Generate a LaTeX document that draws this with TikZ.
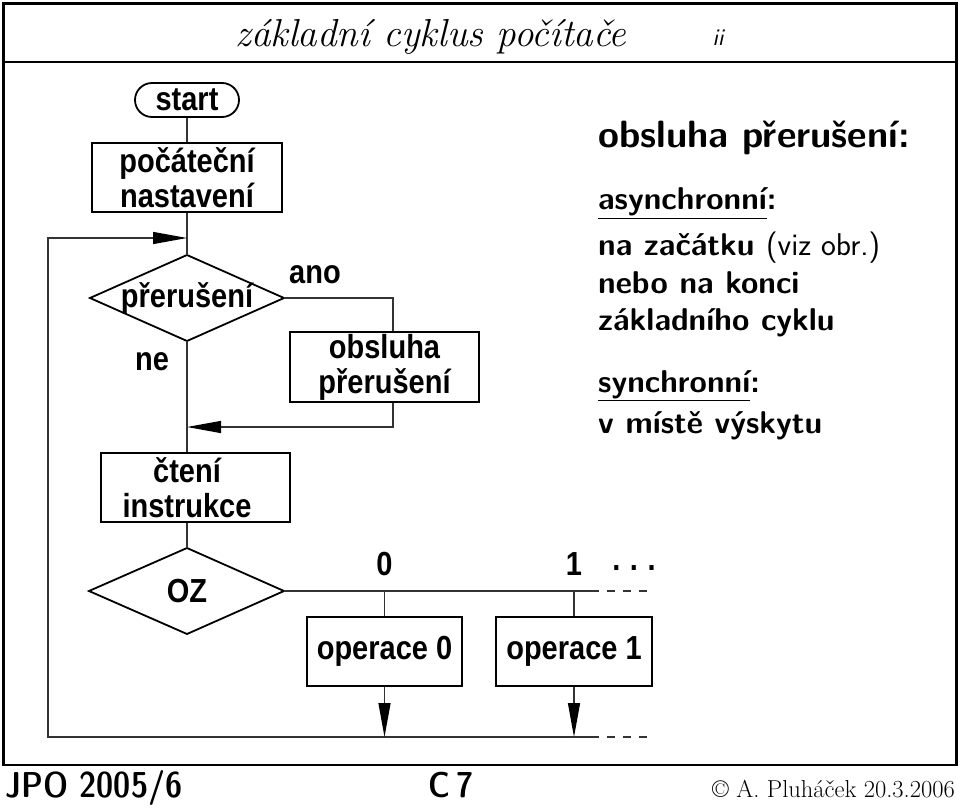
\documentclass[tikz,border=0pt]{standalone}
\usepackage{fontspec}
\usepackage{graphicx}
\usetikzlibrary{arrows.meta}
\newfontfamily\flowfont{Liberation Sans}
\newcommand\st[1]{\scalebox{1}[1.15]{#1}}
\begin{document}
\begin{tikzpicture}[x=1pt,y=-1pt,
  flow/.style={font=\flowfont\bfseries\fontsize{29}{35}\selectfont, inner sep=0pt, align=center},
  box/.style={flow, draw, line width=1.8pt},
  dia/.style={draw, line width=1.8pt, line join=miter},
  conn/.style={line width=1.3pt, draw=black!80},
  tipped/.style={conn, -{Triangle[length=34pt,width=12pt,color=black]}},
  dashconn/.style={conn, dash pattern=on 8pt off 8pt, dash phase=8pt},
  rt/.style={anchor=base west, inner sep=0pt, font=\sffamily\bfseries\fontsize{31.5}{36}\selectfont},
]
\useasboundingbox (0,0) rectangle (960,810);
\fill[white] (0,0) rectangle (960,810);

% frame
\draw[line width=2.6pt] (3.5,3.5) rectangle (956.5,765);
\draw[line width=1.4pt] (3.5,62) -- (956.5,62);

% title and footer
\node[anchor=base, inner sep=0pt, font=\itshape\fontsize{39}{42}\selectfont] (title) at (431,47) {základní cyklus počítače};
\node[anchor=base, inner sep=0pt, font=\sffamily\itshape\fontsize{24}{28}\selectfont] (pg) at (718,46) {ii};
\node[anchor=base west, inner sep=0pt, font=\fontseries{sbc}\sffamily\fontsize{36}{40}\selectfont] (jpo) at (5,797) {JPO 2005/6};
\node[anchor=base west, inner sep=0pt, font=\fontseries{sbc}\sffamily\fontsize{36}{40}\selectfont] (c7) at (428,797) {C\,7};
\node[anchor=base east, inner sep=0pt, font=\fontsize{24.5}{28}\selectfont] (copy) at (955,797) {\textcopyright\ A. Pluháček 20.3.2006};

% flowchart nodes
\node[box, rounded corners=17pt, minimum width=104pt, minimum height=34pt] (start) at (187,100) {\st{start}};
\node[box, minimum width=190pt, minimum height=69pt] (init) at (187,177.5) {\st{počáteční}\\\st{nastavení}};

\coordinate (d1t) at (187,255);
\coordinate (d1r) at (284,298);
\coordinate (d1b) at (187,341);
\coordinate (d1l) at (90,298);
\draw[dia] (d1t) -- (d1r) -- (d1b) -- (d1l) -- cycle;
\node[flow, anchor=base] (d1) at (187,307) {\st{přerušení}};
\node[flow, anchor=base] (ano) at (315,283) {\st{ano}};
\node[flow, anchor=base] (ne) at (152,370) {\st{ne}};

\node[box, minimum width=189pt, minimum height=70pt] (obs) at (384.5,367) {\st{obsluha}\\\st{přerušení}};
\node[box, minimum width=189pt, minimum height=69pt] (read) at (195.5,487.5) {\st{čtení}\hspace*{17pt}\\\st{instrukce}\hspace*{17pt}};

\coordinate (d2t) at (187,548);
\coordinate (d2r) at (284,591);
\coordinate (d2b) at (187,634);
\coordinate (d2l) at (89,591);
\draw[dia] (d2t) -- (d2r) -- (d2b) -- (d2l) -- cycle;
\node[flow, anchor=base] (oz) at (187,602) {\st{OZ}};

\node[box, minimum width=155pt, minimum height=69pt] (op0) at (384.5,651.5) {\st{operace 0}};
\node[box, minimum width=156pt, minimum height=69pt] (op1) at (574,651.5) {\st{operace 1}};
\node[flow, anchor=base] (l0) at (384.5,575) {\st{0}};
\node[flow, anchor=base] (l1) at (574,575) {\st{1}};
\node[flow, anchor=base] (dots) at (634,570) {\st{.\,\,.\,\,.}};

% connector coordinates
\coordinate (j1) at (187,238);
\coordinate (lt) at (48,238);
\coordinate (lb) at (48,737);
\coordinate (a1) at (393,298);
\coordinate (a2) at (393,427);
\coordinate (j2) at (187,427);
\coordinate (h1) at (599,591);
\coordinate (h2) at (652,591);
\coordinate (b1) at (599,737);
\coordinate (b2) at (652,737);

% connectors
\draw[conn] (start) -- (init);
\draw[conn] (init) -- (d1t);
\draw[tipped] (b1) -- (lb) -- (lt) -- (j1);
\draw[conn] (d1r) -- (a1) -- (a1 |- obs.north);
\draw[tipped] (a1 |- obs.south) -- (a2) -- (j2);
\draw[conn] (d1b) -- (read.north -| d1b);
\draw[conn] (read.south -| d1b) -- (d2t);
\draw[conn] (d2r) -- (h1);
\draw[dashconn] (h1) -- (h2);
\draw[dashconn] (b1) -- (b2);
\draw[conn] (op0.north |- d2r) -- (op0.north);
\draw[conn] (op1.north |- d2r) -- (op1.north);
\draw[tipped] (op0.south) -- (op0.south |- lb);
\draw[tipped] (op1.south) -- (op1.south |- lb);

% right-hand text
\node[rt, font=\sffamily\bfseries\fontsize{38}{42}\selectfont] (rh) at (598,148) {obsluha přerušení:};
\node[rt] (r1) at (598,210) {\underline{asynchronní}:};
\node[rt] (r2) at (598,255) {na začátku {\mdseries(viz obr.)}};
\node[rt] (r3) at (598,293) {nebo na konci};
\node[rt] (r4) at (598,330) {základního cyklu};
\node[rt] (r5) at (598,392) {\underline{synchronní}:};
\node[rt] (r6) at (598,433) {v místě výskytu};
\end{tikzpicture}
\end{document}
